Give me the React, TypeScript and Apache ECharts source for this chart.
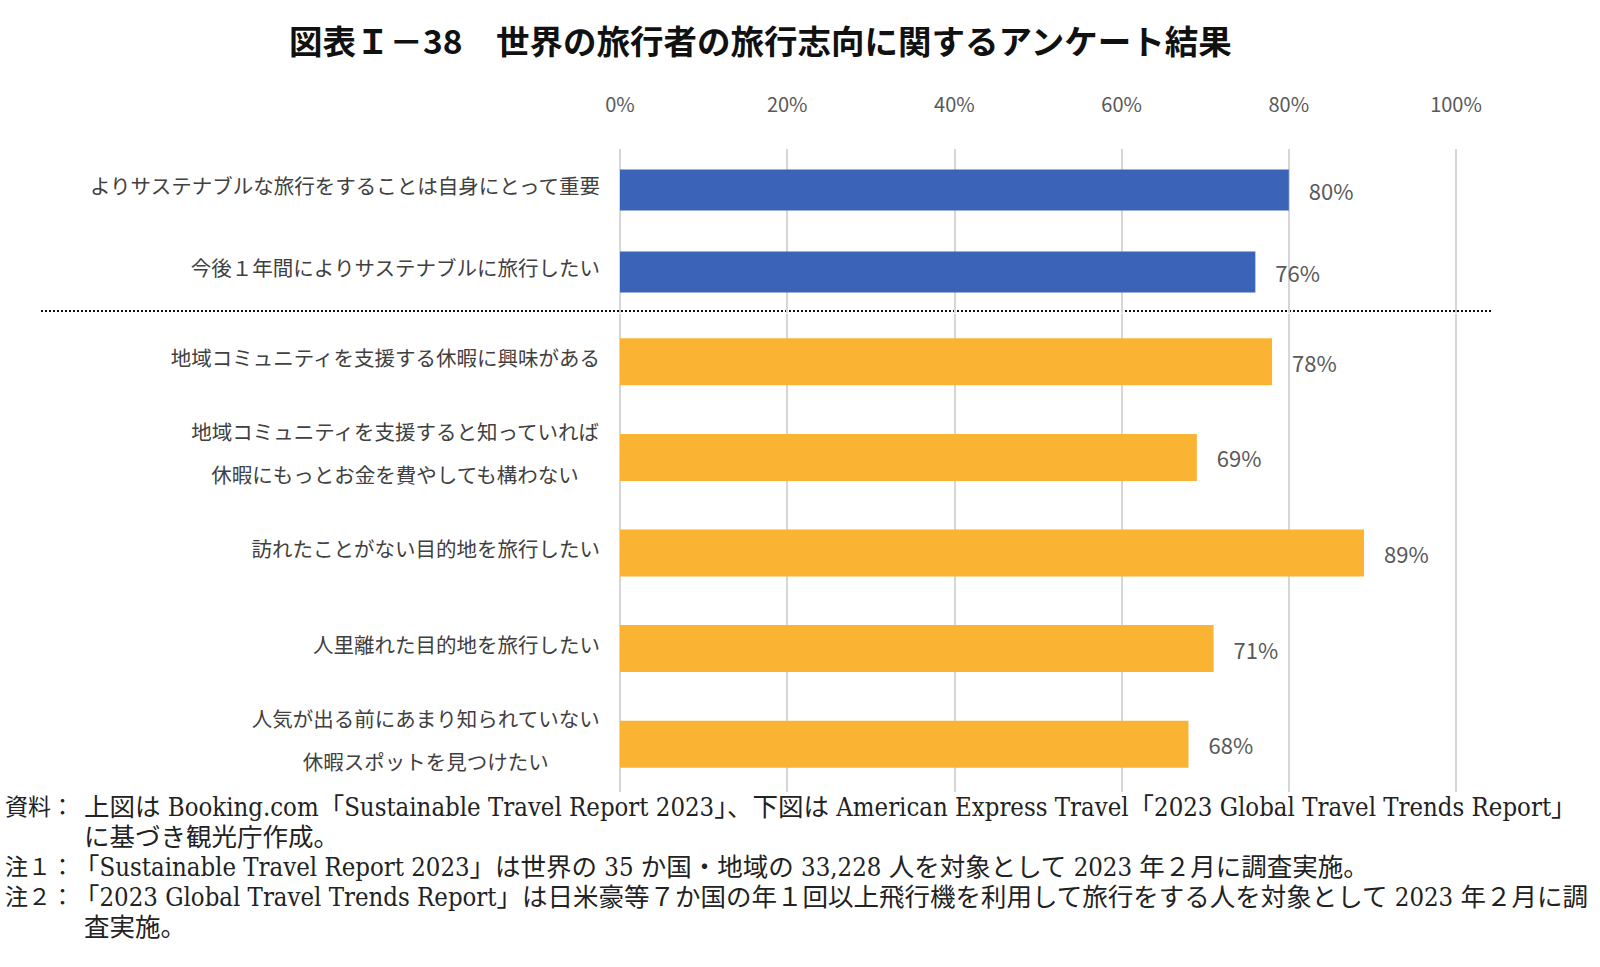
import React, { useEffect, useRef } from "react";
import * as echarts from "echarts";

const titleText = "図表Ｉ－38　世界の旅行者の旅行志向に関するアンケート結果";
const topCategories = [
  "よりサステナブルな旅行をすることは自身にとって重要",
  "今後１年間によりサステナブルに旅行したい",
];
const topValues = [80, 76];
const bottomCategories = [
  "地域コミュニティを支援する休暇に興味がある",
  "地域コミュニティを支援すると知っていれば\n休暇にもっとお金を費やしても構わない",
  "訪れたことがない目的地を旅行したい",
  "人里離れた目的地を旅行したい",
  "人気が出る前にあまり知られていない\n休暇スポットを見つけたい",
];
const bottomValues = [78, 69, 89, 71, 68];
const axisMin = 0;
const axisMax = 100;
const axisStep = 20;

const noteHeads = ["資料：", "", "注１：", "注２：", ""];
const noteBodies = [
  "上図は Booking.com「Sustainable Travel Report 2023」、下図は American Express Travel「2023 Global Travel Trends Report」",
  "に基づき観光庁作成。",
  "「Sustainable Travel Report 2023」は世界の 35 か国・地域の 33,228 人を対象として 2023 年２月に調査実施。",
  "「2023 Global Travel Trends Report」は日米豪等７か国の年１回以上飛行機を利用して旅行をする人を対象として 2023 年２月に調",
  "査実施。",
];

const BLUE = "#3B63B7";
const ORANGE = "#FBB334";
const GRID = "#D6D6D6";
const SANS = "'Noto Sans CJK JP', 'Noto Sans', sans-serif";
const SERIF = "'DejaVu Serif Condensed', 'Liberation Serif', 'Noto Sans CJK JP', serif";

export default function App() {
  const ref = useRef<HTMLDivElement>(null);
  useEffect(() => {
    if (!ref.current) return;
    const chart = echarts.init(ref.current, undefined, { renderer: "svg" });

    const catLabel = {
      margin: 20,
      fontSize: 20.5,
      color: "#404040",
      fontFamily: SANS,
      lineHeight: 43,
      padding: [0, 0, 10, 0],
      formatter: (v: string) =>
        v.indexOf("\n") >= 0
          ? v
              .split("\n")
              .map((s) => "{c|" + s + "}")
              .join("\n")
          : v,
      rich: {
        c: {
          align: "center",
          fontSize: 20.5,
          color: "#404040",
          fontFamily: SANS,
          lineHeight: 43,
        },
      },
    };

    const valueAxisBase = {
      type: "value",
      min: axisMin,
      max: axisMax,
      interval: axisStep,
      axisLine: { show: false },
      axisTick: { show: false },
      splitLine: { show: true, lineStyle: { color: GRID, width: 2 } },
    };

    const barLabel = {
      show: true,
      position: "right",
      distance: 20,
      formatter: "{c}%",
      fontSize: 22,
      color: "#595959",
      fontFamily: SANS,
    };

    const footGraphics: any[] = [];
    const noteY = [807, 837, 867, 897, 927];
    noteBodies.forEach((b, i) => {
      if (noteHeads[i]) {
        footGraphics.push({
          type: "text",
          x: 5,
          y: noteY[i],
          style: {
            text: noteHeads[i],
            fontSize: 23,
            fontFamily: SERIF,
            fill: "#222",
            verticalAlign: "middle",
          },
        });
      }
      footGraphics.push({
        type: "text",
        x: b.startsWith("「") ? 74 : 84,
        y: noteY[i],
        style: {
          text: b,
          fontSize: 25.5,
          fontFamily: SERIF,
          fill: "#222",
          verticalAlign: "middle",
        },
      });
    });

    chart.setOption({
      animation: false,
      backgroundColor: "#fff",
      title: {
        text: titleText,
        left: 284,
        top: 18,
        textStyle: {
          fontSize: 33.5,
          fontWeight: "bold",
          color: "#111",
          fontFamily: SANS,
        },
      },
      grid: [
        { left: 620, right: 144, top: 149, height: 164 },
        { left: 620, right: 144, top: 314, height: 478 },
      ],
      xAxis: [
        {
          ...valueAxisBase,
          gridIndex: 0,
          position: "top",
          axisLabel: {
            show: true,
            margin: 36,
            fontSize: 20,
            color: "#595959",
            fontFamily: SANS,
            formatter: "{value}%",
          },
        },
        {
          ...valueAxisBase,
          gridIndex: 1,
          axisLabel: { show: false },
        },
      ],
      yAxis: [
        {
          type: "category",
          gridIndex: 0,
          inverse: true,
          data: topCategories,
          axisLine: { show: false },
          axisTick: { show: false },
          axisLabel: catLabel,
        },
        {
          type: "category",
          gridIndex: 1,
          inverse: true,
          data: bottomCategories,
          axisLine: { show: false },
          axisTick: { show: false },
          axisLabel: catLabel,
        },
      ],
      series: [
        {
          type: "bar",
          xAxisIndex: 0,
          yAxisIndex: 0,
          data: topValues,
          barWidth: 41,
          itemStyle: { color: BLUE },
          label: barLabel,
        },
        {
          type: "bar",
          xAxisIndex: 1,
          yAxisIndex: 1,
          data: bottomValues,
          barWidth: 47,
          itemStyle: { color: ORANGE },
          label: barLabel,
        },
      ],
      graphic: [
        {
          type: "line",
          shape: { x1: 41, y1: 311, x2: 1493, y2: 311 },
          style: { stroke: "#111", lineWidth: 2, lineDash: [2, 2] },
        },
        ...footGraphics,
      ],
    });
    return () => chart.dispose();
  }, []);
  return (
    <div
      ref={ref}
      style={{ position: "absolute", left: 0, top: 0, width: 1600, height: 967 }}
    />
  );
}
